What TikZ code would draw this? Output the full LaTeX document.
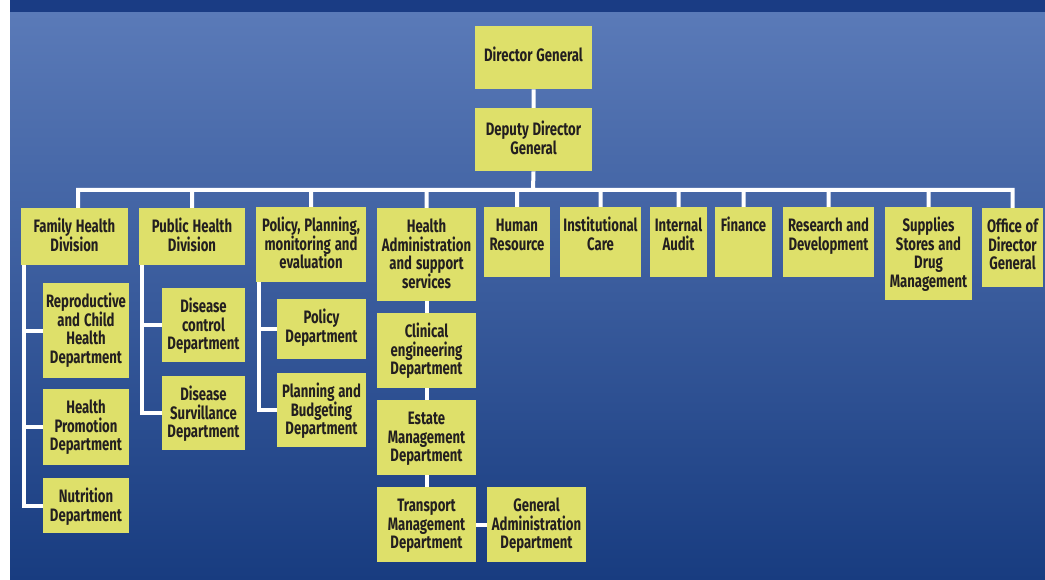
\documentclass[tikz,border=0pt]{standalone}
\usepackage{fontspec}
\setmainfont{Fira Sans}[FakeStretch=0.73]
\usepackage{tikz}
\usetikzlibrary{calc}
\definecolor{boxfill}{HTML}{DEE06A}
\definecolor{boxtext}{HTML}{231F20}
\definecolor{bandblue}{HTML}{1A3C84}
\definecolor{paneltop}{HTML}{5A7AB8}
\definecolor{panelmid}{HTML}{3A5CA0}
\definecolor{panelbot}{HTML}{183C80}
\newcommand{\unitfont}{\fontsize{18}{18.6}\selectfont\bfseries}
\tikzset{
x=1pt, y=-1pt, % pixel-like coordinates, y runs downwards
unit/.style={rectangle, fill=boxfill, text=boxtext, align=center, anchor=north,
  inner xsep=1pt, inner ysep=12pt, text height=12.5pt, font=\unitfont,
  execute at begin node={\spaceskip=3.6pt plus 1pt\relax}}, % every yellow box
link/.style={draw=white, line width=4pt}, % the white connectors
}

\begin{document}
\begin{tikzpicture}
    \useasboundingbox (0,0) rectangle (1045,580);
    \fill[white] (0,0) rectangle (1045,580);
    \fill[bandblue] (10,0) rectangle (1045,13);
    \shade[top color=paneltop, middle color=panelmid, bottom color=panelbot] (10,13) rectangle (1045,580);

    % top of the chart
    \node[unit, text width=115pt, inner ysep=23pt, text depth=4.5pt] (dg) at (533.5,26) {Director General};
    \node[unit, text width=115pt, inner ysep=15pt, text depth=20.5pt] (ddg) at (533.5,108) {Deputy Director\\General};
    \coordinate (bus) at (533,190);

    % divisions
    \node[unit, text width=105pt, text depth=20.5pt] (fhd) at (74.5,208) {Family Health\\Division};
    \node[unit, text width=104pt, text depth=20.5pt] (phd) at (192,208) {Public Health\\Division};
    \node[unit, text width=108pt, text depth=38.5pt] (ppm) at (311,207) {Policy, Planning,\\monitoring and\\evaluation};
    \node[unit, text width=97pt, text depth=56.5pt] (has) at (426.5,208) {Health\\Administration\\and support\\services};
    \node[unit, text width=64pt, text depth=33.5pt] (hr) at (517,207) {Human\\Resource};
    \node[unit, text width=79pt, text depth=33.5pt] (ic) at (600.5,207) {Institutional\\Care};
    \node[unit, text width=55pt, text depth=33.5pt] (ia) at (678.5,207) {Internal\\Audit};
    \node[unit, text width=55pt, text depth=33.5pt] (fin) at (743.5,207) {Finance};
    \node[unit, text width=89pt, text depth=33.5pt] (rd) at (828.5,207) {Research and\\Development};
    \node[unit, text width=85pt, text depth=56.5pt] (ssd) at (928.5,207) {Supplies\\Stores and\\Drug\\Management};
    \node[unit, text width=59pt, text depth=42.5pt] (odg) at (1012.5,208) {Office of\\Director\\General};

    % departments
    \node[unit, text width=84pt, text depth=58.5pt] (rch) at (86,283) {Reproductive\\and Child\\Health\\Department};
    \node[unit, text width=84pt, text depth=39.5pt] (hpd) at (86,389) {Health\\Promotion\\Department};
    \node[unit, text width=84pt, text depth=18.5pt] (nut) at (86,478) {Nutrition\\Department};
    \node[unit, text width=81pt, text depth=37.5pt] (dcd) at (203.5,288) {Disease\\control\\Department};
    \node[unit, text width=81pt, text depth=37.5pt] (dsd) at (203.5,376) {Disease\\Survillance\\Department};
    \node[unit, text width=87pt, text depth=23.5pt] (pold) at (321.5,299) {Policy\\Department};
    \node[unit, text width=87pt, text depth=37.5pt] (pbd) at (321.5,373) {Planning and\\Budgeting\\Department};
    \node[unit, text width=97pt, text depth=38.5pt] (ced) at (426.5,313) {Clinical\\engineering\\Department};
    \node[unit, text width=97pt, text depth=38.5pt] (emd) at (426.5,400) {Estate\\Management\\Department};
    \node[unit, text width=97pt, text depth=38.5pt] (tmd) at (426.5,487) {Transport\\Management\\Department};
    \node[unit, text width=97pt, text depth=38.5pt] (gad) at (536.5,487) {General\\Administration\\Department};

    % connectors
    \coordinate (ft) at ([xshift=3pt]fhd.south west);
    \coordinate (pt) at ([xshift=3pt]phd.south west);
    \coordinate (mt) at ([xshift=3pt]ppm.south west);
    \draw[link]
    (dg.south) -- (ddg.north)
    (ddg.south) -- (bus)
    ([xshift=3.5pt]fhd.north) |- (bus) -| (odg.north)
    (phd.north) -- (phd.north |- bus)
    (ppm.north) -- (ppm.north |- bus)
    (has.north) -- (has.north |- bus)
    (hr.north) -- (hr.north |- bus)
    (ic.north) -- (ic.north |- bus)
    (ia.north) -- (ia.north |- bus)
    (fin.north) -- (fin.north |- bus)
    (rd.north) -- (rd.north |- bus)
    (ssd.north) -- (ssd.north |- bus);
    \draw[link]
    (ft) |- (nut.west)
    (ft |- rch.west) -- (rch.west)
    (ft |- hpd.west) -- (hpd.west)
    (pt) |- (dsd.west)
    (pt |- dcd.west) -- (dcd.west)
    (mt) |- (pbd.west)
    (mt |- pold.west) -- (pold.west)
    (has.south) -- (ced.north)
    (ced.south) -- (emd.north)
    (emd.south) -- (tmd.north)
    (tmd.east) -- (gad.west);
  \end{tikzpicture}
\end{document}
